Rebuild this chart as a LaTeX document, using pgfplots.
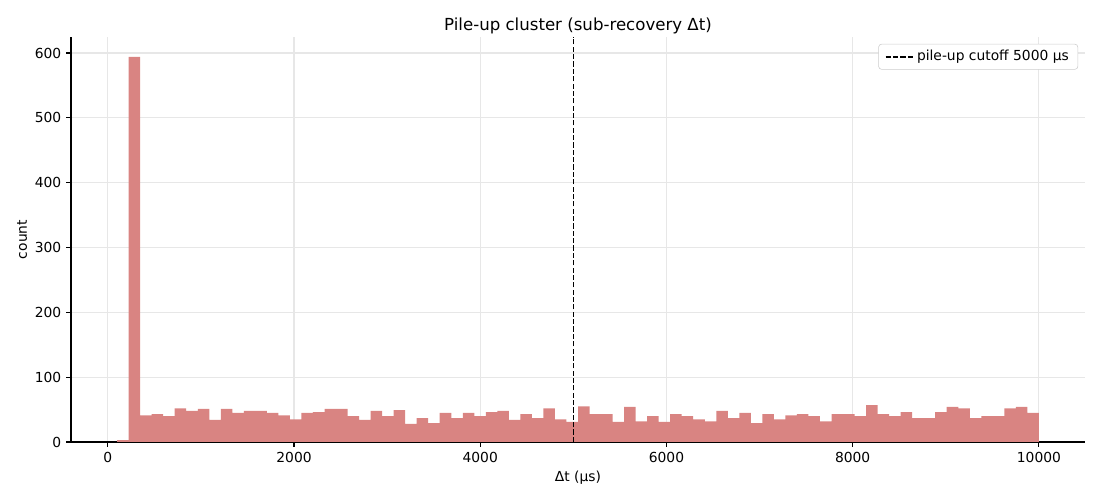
\documentclass[border=0pt]{standalone}
\usepackage{fontspec}
\setmainfont{DejaVu Sans}
\usepackage{pgfplots}
\pgfplotsset{compat=1.18}
\definecolor{barc}{RGB}{217,132,130}
\definecolor{gridc}{RGB}{231,231,231}
\begin{document}
\begin{tikzpicture}
\useasboundingbox (-51.12bp,-41.76bp) rectangle (740.88bp,318.24bp);
\begin{axis}[
  at={(0,0)}, anchor=south west,
  scale only axis, width=730.08bp, height=291.6bp,
  xmin=-395, xmax=10495, ymin=0, ymax=624.75,
  axis lines*=left, axis line style={-, line width=0.8bp},
  xtick={0,2000,4000,6000,8000,10000},
  ytick={0,100,200,300,400,500,600},
  scaled x ticks=false, scaled y ticks=false,
  tick align=outside, major tick length=3.5bp,
  tick style={line width=0.8bp, black},
  grid=major, major grid style={gridc, line width=0.8bp},
  /pgf/number format/assume math mode=true,
  /pgf/number format/1000 sep={},
  ticklabel style={font=\fontsize{10}{12}\selectfont},
  title={Pile-up cluster (sub-recovery Δt)},
  every axis title/.style={font=\fontsize{12}{14}\selectfont, at={(0.5,1)}, anchor=base, yshift=4.6bp},
  xlabel={Δt (µs)},
  ylabel={count},
  label style={font=\fontsize{10}{12}\selectfont},
  every axis x label/.style={at={(0.5,-0.0892)}, anchor=center},
  every axis y label/.style={at={(-0.0483,0.5)}, anchor=center, rotate=90},
  legend style={at={(1,1)}, anchor=north east, xshift=-5bp, yshift=-5bp,
    draw=black!20, rounded corners=2bp, font=\fontsize{10}{12}\selectfont,
    inner xsep=4.5bp, inner ysep=2.5bp},
  legend image code/.code={\draw[#1] (0bp,0bp) -- (20bp,0bp);},
  legend cell align=left,
]
\addplot[ybar interval, fill=barc, draw=none, forget plot] table {
x y
100 3
223.75 594
347.5 41
471.25 43
595 40
718.75 52
842.5 48
966.25 51
1090 34
1213.75 51
1337.5 45
1461.25 48
1585 48
1708.75 45
1832.5 41
1956.25 35
2080 45
2203.75 46
2327.5 51
2451.25 51
2575 40
2698.75 34
2822.5 48
2946.25 40
3070 49
3193.75 28
3317.5 37
3441.25 29
3565 45
3688.75 37
3812.5 45
3936.25 40
4060 46
4183.75 48
4307.5 34
4431.25 43
4555 37
4678.75 52
4802.5 35
4926.25 31
5050 55
5173.75 43
5297.5 43
5421.25 31
5545 54
5668.75 32
5792.5 40
5916.25 31
6040 43
6163.75 40
6287.5 35
6411.25 32
6535 48
6658.75 37
6782.5 45
6906.25 29
7030 43
7153.75 35
7277.5 41
7401.25 43
7525 40
7648.75 32
7772.5 43
7896.25 43
8020 40
8143.75 57
8267.5 43
8391.25 40
8515 46
8638.75 37
8762.5 37
8886.25 46
9010 54
9133.75 52
9257.5 37
9381.25 40
9505 40
9628.75 52
9752.5 54
9876.25 45
10000 45
};
\addplot[black, line width=1.1bp, dash pattern=on 3.7bp off 1.6bp] coordinates {(5000,0) (5000,624.75)};
\addlegendentry{pile-up cutoff 5000 µs}
\end{axis}
\end{tikzpicture}
\end{document}
